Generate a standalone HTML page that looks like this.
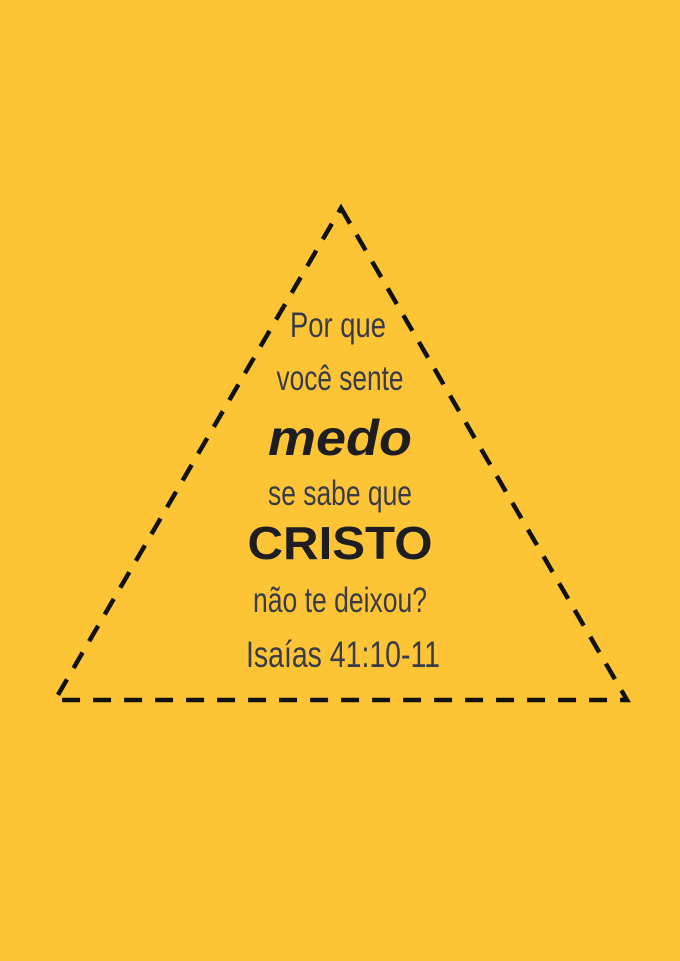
<!DOCTYPE html>
<html><head><meta charset="utf-8"><style>
html,body{margin:0;padding:0;background:#fdc536;}
svg{display:block}
</style></head><body>
<svg width="680" height="961" viewBox="0 0 680 961" xmlns="http://www.w3.org/2000/svg">
<rect width="680" height="961" fill="#fdc536"/>
<polygon points="341,208 627,700 55,700" fill="none" stroke="#111" stroke-width="4.5" stroke-dasharray="18,13" stroke-linejoin="miter"/>
<g font-family="Liberation Sans, sans-serif" fill="#3a3b48" text-anchor="middle">
<text x="338" y="337" font-size="35" textLength="96" lengthAdjust="spacingAndGlyphs">Por que</text>
<text x="340" y="390" font-size="35" textLength="127" lengthAdjust="spacingAndGlyphs">você sente</text>
<text x="340" y="505" font-size="35" textLength="144" lengthAdjust="spacingAndGlyphs">se sabe que</text>
<text x="340" y="612" font-size="35" textLength="174" lengthAdjust="spacingAndGlyphs">não te deixou?</text>
<text x="343" y="667" font-size="37" textLength="194" lengthAdjust="spacingAndGlyphs">Isaías 41:10-11</text>
</g>
<g font-family="Liberation Sans, sans-serif" fill="#1e1e22" font-weight="bold" text-anchor="middle">
<text x="340" y="455" font-size="50" font-style="italic" textLength="144" lengthAdjust="spacingAndGlyphs">medo</text>
<text x="340" y="559" font-size="46" textLength="185" lengthAdjust="spacingAndGlyphs">CRISTO</text>
</g>
</svg>
</body></html>
